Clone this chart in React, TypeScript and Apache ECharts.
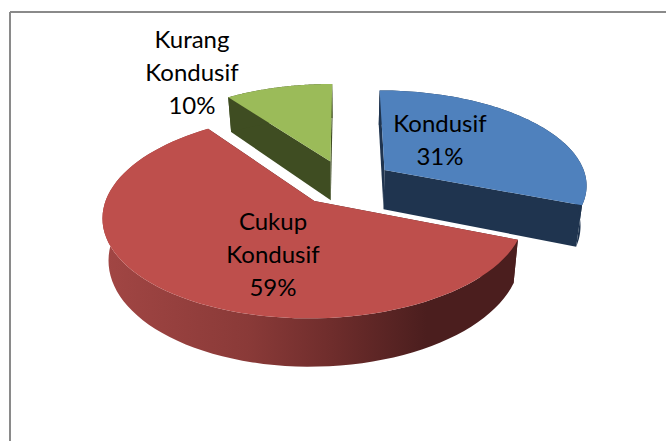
import React, { useEffect, useRef } from "react";
import * as echarts from "echarts";

const categories = ["Kondusif", "Cukup Kondusif", "Kurang Kondusif"];
const labelLines = [["Kondusif"], ["Cukup", "Kondusif"], ["Kurang", "Kondusif"]];
const values = [31, 59, 10];
const topColors = ["#4F81BD", "#BE4F4C", "#9BBB59"];
const wallColors = ["#1F344F", "#4B1E1E", "#3F4D22"];
const labelCentres = [[440, 139], [273, 253], [192, 71]];

const X0 = 345, Y0 = 182.5, RX = 203, RY = 94.5, K = 0.145, EXPLODE = 0.24, DEPTH = 40, SHRINK = 0.975;
const total = values.reduce((a, b) => a + b, 0);

function project(u: number, v: number, lower: boolean): number[] {
  const s = 1 / (1 + K * v);
  const x = X0 + RX * u * s;
  const y = Y0 - RY * v * s;
  if (!lower) return [x, y];
  return [X0 + (x - X0) * SHRINK, y + DEPTH * s];
}

function renderSlice(params: any, api: any) {
  const idx = params.dataIndex;
  const before = values.slice(0, idx).reduce((a, b) => a + b, 0);
  const a0 = (before / total) * Math.PI * 2;
  const a1 = ((before + api.value(0)) / total) * Math.PI * 2;
  const mid = (a0 + a1) / 2;
  const cu = Math.sin(mid) * EXPLODE;
  const cv = Math.cos(mid) * EXPLODE;
  const steps = 80;
  const topArc: number[][] = [];
  const lowArc: number[][] = [];
  for (let i = 0; i <= steps; i++) {
    const a = a0 + ((a1 - a0) * i) / steps;
    const u = cu + Math.sin(a);
    const v = cv + Math.cos(a);
    topArc.push(project(u, v, false));
    lowArc.push(project(u, v, true));
  }
  const apexTop = project(cu, cv, false);
  const apexLow = project(cu, cv, true);
  const wall = wallColors[idx];
  const rimFill =
    idx === 1
      ? new echarts.graphic.LinearGradient(0, 0, 1, 0, [
          { offset: 0, color: "#A24644" },
          { offset: 0.35, color: "#8A3A38" },
          { offset: 0.55, color: "#6F2D2C" },
          { offset: 0.78, color: "#4B1E1E" },
          { offset: 1, color: "#4B1E1E" },
        ])
      : wall;
  const poly = (points: number[][], fill: any) => ({
    type: "polygon",
    shape: { points },
    style: { fill, stroke: "none" },
  });
  const [lx, ly] = labelCentres[idx];
  const pct = Math.round((api.value(0) / total) * 100) + "%";
  return {
    type: "group",
    children: [
      poly([apexTop, topArc[0], lowArc[0], apexLow], wall),
      poly([apexTop, topArc[steps], lowArc[steps], apexLow], wall),
      poly([...topArc, ...lowArc.slice().reverse()], rimFill),
      poly([apexTop, ...topArc], topColors[idx]),
      {
        type: "text",
        z2: 10,
        style: {
          x: lx,
          y: ly,
          text: [...labelLines[idx], pct].join("\n"),
          fill: "#000000",
          font: '24px Lato, "Open Sans", sans-serif',
          lineHeight: 33,
          align: "center",
          verticalAlign: "middle",
        },
      },
    ],
  };
}

export default function App() {
  const ref = useRef<HTMLDivElement>(null);
  useEffect(() => {
    document.body.style.margin = "0";
    const chart = echarts.init(ref.current!, null, { renderer: "svg" });
    chart.setOption({
      animation: false,
      backgroundColor: "#FFFFFF",
      graphic: [
        { type: "line", shape: { x1: 10, y1: 12, x2: 666, y2: 12 }, style: { stroke: "#8A8A8A", lineWidth: 2 } },
        { type: "line", shape: { x1: 10, y1: 12, x2: 10, y2: 441 }, style: { stroke: "#8A8A8A", lineWidth: 2 } },
      ],
      series: [
        {
          type: "custom",
          coordinateSystem: "none",
          renderItem: renderSlice,
          data: values.map((v, i) => ({ name: categories[i], value: [v] })),
        },
      ],
    });
    return () => chart.dispose();
  }, []);
  return <div ref={ref} style={{ width: 666, height: 441, overflow: "hidden" }} />;
}
